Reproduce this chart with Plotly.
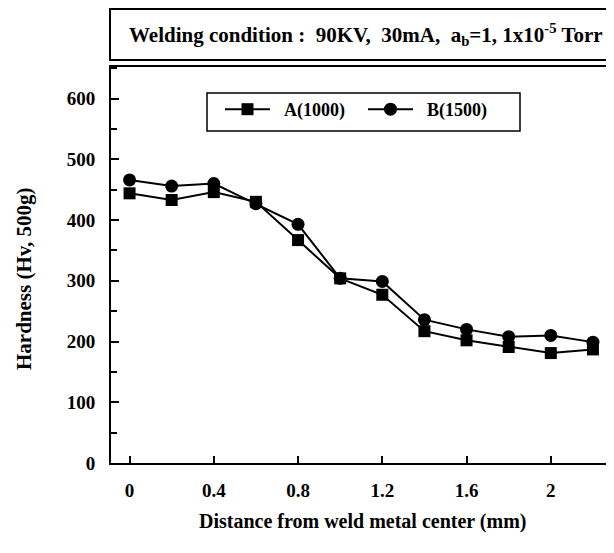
import plotly.graph_objects as go

distance_mm = [0, 0.2, 0.4, 0.6, 0.8, 1.0, 1.2, 1.4, 1.6, 1.8, 2.0, 2.2]
hardness_A = [444, 433, 446, 430, 367, 304, 277, 217, 202, 191, 181, 187]
hardness_B = [466, 456, 460, 427, 393, 304, 299, 236, 220, 208, 210, 199]
series_names = ["A(1000)", "B(1500)"]
x_ticks = [0, 0.4, 0.8, 1.2, 1.6, 2.0]
x_tick_labels = ["0", "0.4", "0.8", "1.2", "1.6", "2"]
y_ticks = [0, 100, 200, 300, 400, 500, 600]

FONT = "Liberation Serif, Times New Roman, serif"
NB = "\u00a0\u00a0"

fig = go.Figure()
fig.add_trace(go.Scatter(
    x=distance_mm, y=hardness_A, name=NB + series_names[0], mode="lines+markers",
    line=dict(color="black", width=2),
    marker=dict(symbol="square", size=12, color="black"),
))
fig.add_trace(go.Scatter(
    x=distance_mm, y=hardness_B, name=NB + series_names[1], mode="lines+markers",
    line=dict(color="black", width=2),
    marker=dict(symbol="circle", size=13, color="black"),
))

# page body has an 8px margin; figure is sized to fit the 614x553 window
OFF = 8
W, H = 614 - OFF, 553 - OFF
L, T = 111 - OFF, 67 - OFF
B = H - (463 - OFF)
plot_w = 614 - 111
plot_h = 463 - 67


def fx(xp):
    return (xp - 111) / plot_w


def fy(yp):
    return (463 - yp) / plot_h


fig.update_layout(
    width=W, height=H,
    margin=dict(l=L, r=0, t=T, b=B, pad=0),
    paper_bgcolor="white", plot_bgcolor="white",
    font=dict(family=FONT, size=19, color="black"),
    showlegend=True,
    legend=dict(
        orientation="h",
        x=fx(220), y=fy(91),
        xanchor="left", yanchor="top",
        bgcolor="rgba(0,0,0,0)", borderwidth=0,
        font=dict(family=FONT, size=18, color="black", weight="bold"),
        entrywidth=83, entrywidthmode="pixels",
        itemwidth=45,
    ),
    xaxis=dict(
        range=[-0.088, 2.3],
        tickmode="array", tickvals=x_ticks, ticktext=x_tick_labels,
        ticks="inside", ticklen=7, tickwidth=1.5, tickcolor="black",
        showline=True, linecolor="black", linewidth=2, mirror=True,
        showgrid=False, zeroline=False,
        tickfont=dict(family=FONT, size=19, weight="bold"),
        ticklabelstandoff=9,
    ),
    yaxis=dict(
        range=[0, 652],
        tickmode="array", tickvals=y_ticks,
        ticks="inside", ticklen=8, tickwidth=1.5, tickcolor="black",
        minor=dict(ticks="inside", ticklen=6, tickwidth=1.5, tickcolor="black", dtick=50, tick0=0),
        showline=True, linecolor="black", linewidth=2,
        showgrid=False, zeroline=False,
        tickfont=dict(family=FONT, size=19, weight="bold"),
        ticklabelstandoff=10,
    ),
)

# Legend frame
fig.add_shape(type="rect", xref="paper", yref="paper",
              x0=fx(207), x1=fx(520), y0=fy(131), y1=fy(93),
              line=dict(color="black", width=1.5), fillcolor="white")

# Header box with welding condition
fig.add_shape(type="rect", xref="paper", yref="paper",
              x0=fx(110), x1=fx(640),
              y0=fy(60), y1=fy(9),
              line=dict(color="black", width=2), fillcolor="white")
fig.add_annotation(
    xref="paper", yref="paper",
    x=fx(366), y=fy(35),
    xanchor="center", yanchor="middle", showarrow=False,
    text="Welding condition :  90KV,  30mA,  a<sub>b</sub>=1, 1x10<sup>-5</sup> Torr",
    font=dict(family=FONT, size=21, color="black", weight="bold"),
)

# Axis titles
fig.add_annotation(
    xref="paper", yref="paper",
    x=fx(362), y=fy(521),
    xanchor="center", yanchor="middle", showarrow=False,
    text="Distance from weld metal center (mm)",
    font=dict(family=FONT, size=20, color="black", weight="bold"),
)
fig.add_annotation(
    xref="paper", yref="paper",
    x=fx(24), y=fy(279),
    xanchor="center", yanchor="middle", showarrow=False, textangle=-90,
    text="Hardness (Hv, 500g)",
    font=dict(family=FONT, size=21, color="black", weight="bold"),
)

fig.write_html("out.html")
